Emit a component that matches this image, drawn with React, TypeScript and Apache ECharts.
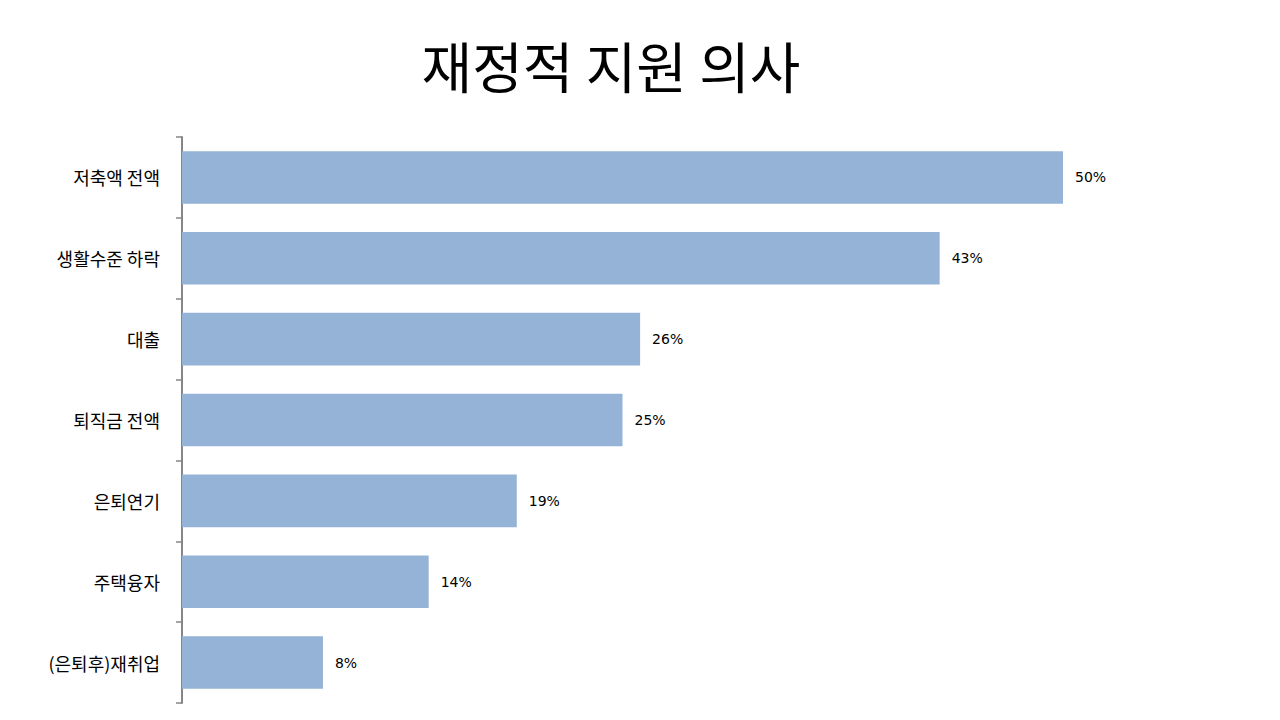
import { useEffect, useRef } from 'react';
import * as echarts from 'echarts';

const TITLE = '재정적 지원 의사';
const categories = ['저축액 전액', '생활수준 하락', '대출', '퇴직금 전액', '은퇴연기', '주택융자', '(은퇴후)재취업'];
const values = [50, 43, 26, 25, 19, 14, 8];
const BAR_COLOR = '#95b3d7';

export default function App() {
  const ref = useRef<HTMLDivElement>(null);

  useEffect(() => {
    const dom = ref.current;
    if (!dom) return;
    const chart = echarts.init(dom, undefined, { renderer: 'svg' });

    chart.setOption({
      animation: false,
      backgroundColor: '#ffffff',
      title: {
        text: TITLE,
        left: 606,
        top: 31,
        textAlign: 'center',
        textStyle: {
          fontFamily: '"Noto Sans CJK KR", sans-serif',
          fontSize: 55,
          fontWeight: 'normal',
          color: '#000000',
        },
      },
      grid: { left: 182, top: 137, width: 881, height: 566, containLabel: false },
      xAxis: {
        type: 'value',
        min: 0,
        max: 50,
        show: false,
      },
      yAxis: {
        type: 'category',
        data: categories,
        inverse: true,
        axisLine: { show: true, lineStyle: { color: '#868686', width: 2 } },
        axisTick: { show: true, length: 6, inside: false, lineStyle: { color: '#868686', width: 1.5 } },
        axisLabel: {
          margin: 22,
          fontFamily: '"Noto Sans CJK KR", sans-serif',
          fontSize: 18,
          color: '#000000',
        },
        splitLine: { show: false },
      },
      series: [
        {
          type: 'bar',
          data: values,
          barCategoryGap: '35%',
          itemStyle: { color: BAR_COLOR },
          label: {
            show: true,
            position: 'right',
            distance: 12,
            formatter: '{c}%',
            fontFamily: '"DejaVu Sans", sans-serif',
            fontSize: 14,
            color: '#000000',
          },
        },
      ],
    } as echarts.EChartsOption);

    return () => {
      chart.dispose();
    };
  }, []);

  return <div ref={ref} style={{ position: 'fixed', left: 0, top: 0, width: 1280, height: 720 }} />;
}
